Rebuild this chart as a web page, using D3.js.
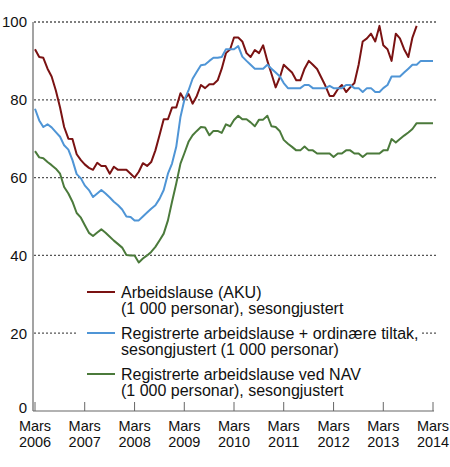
<!DOCTYPE html>
<html>
<head>
<meta charset="utf-8">
<script src="https://cdn.jsdelivr.net/npm/d3@7"></script>
<style>
  body { margin: 0; background: #fff; }
  svg { display: block; font-family: "Liberation Sans", Arial, sans-serif; }
  .grid-line { stroke: #555; stroke-width: 1.3; stroke-dasharray: 2,2; }
</style>
</head>
<body>
<div id="chart"></div>
<script>
// monthly values, first month = March 2006
const aku = [
  93, 91, 90.8, 88, 86, 82.4, 78, 73, 70, 69.9, 66, 64.5,
  63.4, 62.5, 62, 63.8, 63, 63, 61, 62.8, 62, 62, 62, 61,
  60, 61.5, 63.7, 63, 64, 67, 71, 75, 75, 78, 78, 81.7,
  80, 81.5, 79, 81, 83.8, 83, 84, 84, 85, 88, 92, 93,
  96, 96, 95, 92, 91, 92.8, 92, 94, 90, 86.7, 83.2, 85.8,
  89, 88, 87, 85, 85, 88, 90, 89, 87.9, 85.8, 83.6, 81,
  81, 82.7, 83.8, 82, 83.2, 84.3, 89, 95, 95.8, 97, 95, 99,
  94, 93, 90, 97, 95.8, 93, 91, 96, 99
];
const registrerteTiltak = [
  77.7, 74.7, 73, 73.7, 72.9, 71.7, 70.5, 68.3, 67.2, 64.5, 60.9, 59.8,
  58, 56.8, 55, 55.9, 56.8, 55.9, 54.9, 53.8, 52.9, 51.8, 50, 49.9,
  49, 49, 50, 51, 52, 52.9, 54.6, 56.8, 61, 63.6, 67.9, 75.6,
  79.9, 82.4, 85.4, 87.2, 88.9, 89.1, 90, 90.8, 90.8, 91, 93, 93,
  93, 93.8, 91.1, 90, 89, 88, 88, 88, 89, 88, 87, 86,
  84.3, 83, 83, 83, 83, 83.8, 83.8, 83, 83, 83, 83, 83.6,
  83, 83, 83, 83.8, 83.8, 83, 83, 82, 83, 83, 82, 82,
  83, 83.8, 86, 86, 86, 87, 88, 89, 89, 90, 90, 90, 90
];
const registrerteNav = [
  66.8, 65.2, 65, 64, 63.2, 62.3, 61, 57.6, 55.9, 53.8, 50.9, 49.7,
  47.8, 45.8, 45, 45.9, 46.7, 45.8, 44.8, 43.8, 42.9, 42, 40.1, 40,
  40, 38.2, 39.2, 40, 40.9, 42.2, 43.9, 45.6, 49, 53.8, 58.5, 63.6,
  66.2, 69.2, 70.9, 72, 73, 72.9, 70.9, 72, 72, 71.5, 73.7, 73.2,
  74.8, 75.9, 75, 75, 74.2, 73.2, 74.9, 74.9, 75.9, 73.2, 73, 71.9,
  69.7, 68.7, 67.9, 67, 67, 68, 67, 67, 66.2, 66.2, 66.2, 66.2,
  65.3, 66.2, 66.2, 67, 67, 66.2, 66.2, 65.3, 66.2, 66.2, 66.2, 66.2,
  67, 67, 69.9, 69, 69.9, 70.8, 71.6, 72.5, 74, 74, 74, 74, 74
];
const yTicks = [0, 20, 40, 60, 80, 100];
const xTickYears = [2006, 2007, 2008, 2009, 2010, 2011, 2012, 2013, 2014];
const legendLabels = [
  ["Arbeidslause (AKU)", "(1 000 personar), sesongjustert"],
  ["Registrerte arbeidslause + ordinære tiltak,", "sesongjustert (1 000 personar)"],
  ["Registrerte arbeidslause ved NAV", "(1 000 personar), sesongjustert"]
];

const series = [
  { values: aku, color: "#7a1212" },
  { values: registrerteTiltak, color: "#4f95d6" },
  { values: registrerteNav, color: "#4b7a3b" }
];

const width = 450, height = 467;
const start = new Date(2006, 2, 1);
const monthDate = (i) => d3.timeMonth.offset(start, i);

const x = d3.scaleTime().domain([start, new Date(2014, 2, 1)]).range([35, 433]);
const y = d3.scaleLinear().domain([0, 100]).range([411, 22]);

const svg = d3.select("#chart").append("svg").attr("width", width).attr("height", height);

// grid
svg.append("g")
  .selectAll("line")
  .data(yTicks.filter((d) => d > 0))
  .join("line")
  .attr("class", "grid-line")
  .attr("x1", 34).attr("x2", 436)
  .attr("y1", (d) => y(d)).attr("y2", (d) => y(d));

// y labels
svg.append("g")
  .selectAll("text")
  .data(yTicks)
  .join("text")
  .attr("x", 27)
  .attr("y", (d) => (d === 0 ? y(d) - 3 : y(d)))
  .attr("dy", "0.36em")
  .attr("text-anchor", "end")
  .attr("font-size", 15)
  .attr("fill", "#111")
  .text((d) => d);

// lines
const line = d3.line()
  .x((d, i) => x(monthDate(i)))
  .y((d) => y(d));

svg.append("g")
  .selectAll("path")
  .data(series)
  .join("path")
  .attr("fill", "none")
  .attr("stroke", (d) => d.color)
  .attr("stroke-width", 2)
  .attr("stroke-linejoin", "round")
  .attr("d", (d) => line(d.values));

// legend
const legend = svg.append("g");
legend.append("rect")
  .attr("x", 77).attr("y", 279).attr("width", 344).attr("height", 120)
  .attr("fill", "#fff");

const rows = legend.selectAll("g")
  .data(legendLabels)
  .join("g")
  .attr("transform", (d, i) => `translate(0,${292 + i * 41})`);

rows.append("line")
  .attr("x1", 87).attr("x2", 115)
  .attr("stroke", (d, i) => series[i].color)
  .attr("stroke-width", 2);

rows.append("text")
  .attr("x", 121)
  .attr("font-size", 16)
  .attr("fill", "#111")
  .selectAll("tspan")
  .data((d) => d)
  .join("tspan")
  .attr("x", 121)
  .attr("y", (d, i) => i * 16.5)
  .attr("dy", "0.36em")
  .text((d) => d);

// axes
svg.append("line")
  .attr("x1", 33).attr("x2", 33).attr("y1", 22).attr("y2", 411)
  .attr("stroke", "#666").attr("stroke-width", 1.2);

const xAxis = svg.append("g").attr("transform", `translate(0,${y(0)})`);
xAxis.append("line")
  .attr("x1", 33).attr("x2", 434)
  .attr("stroke", "#666").attr("stroke-width", 1.2);

const ticks = xAxis.selectAll("g")
  .data(xTickYears)
  .join("g")
  .attr("transform", (d) => `translate(${x(new Date(d, 2, 1))},0)`);

ticks.append("line").attr("y1", 0).attr("y2", -9).attr("stroke", "#666").attr("stroke-width", 1);
ticks.append("text")
  .attr("text-anchor", "middle")
  .attr("font-size", 14.5)
  .attr("fill", "#111")
  .selectAll("tspan")
  .data((d) => ["Mars", String(d)])
  .join("tspan")
  .attr("x", 0)
  .attr("y", (d, i) => 15 + i * 16)
  .attr("dy", "0.36em")
  .text((d) => d);
</script>
</body>
</html>
